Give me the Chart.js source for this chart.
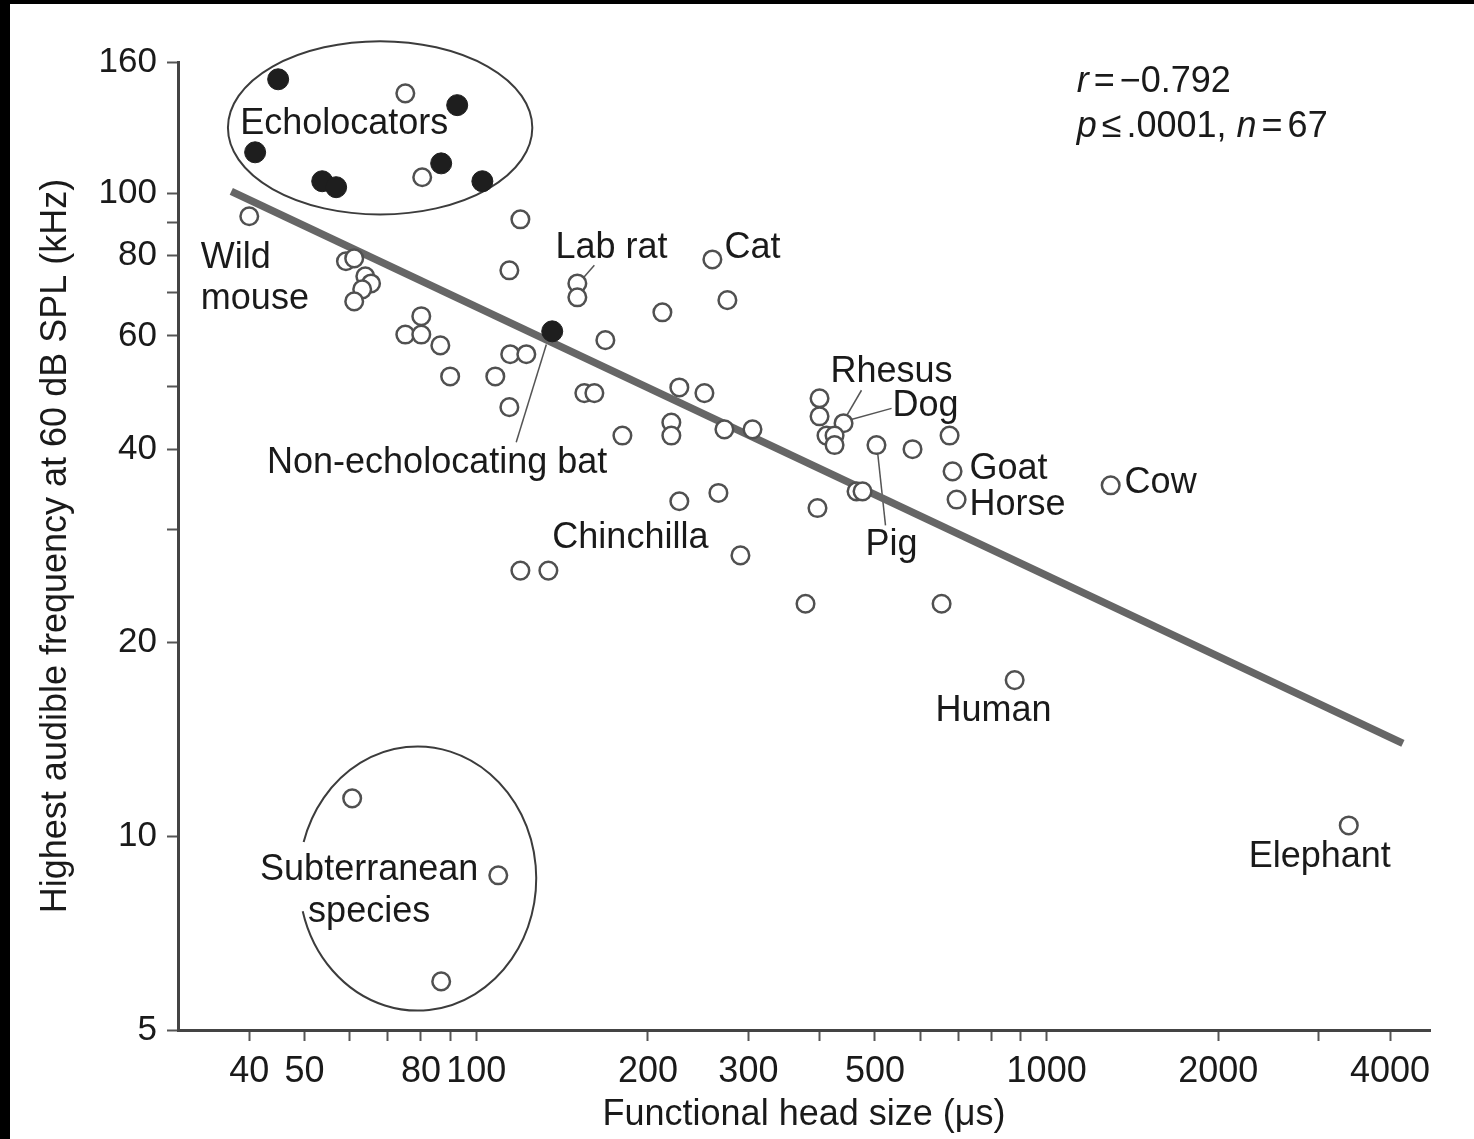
<!DOCTYPE html>
<html>
<head>
<meta charset="utf-8">
<title>Head size vs. high-frequency hearing</title>
<script src="https://cdn.jsdelivr.net/npm/chart.js@4.4.0/dist/chart.umd.min.js"></script>
<style>
  html, body { margin: 0; padding: 0; background: #fff; }
  #wrap { width: 1474px; height: 1139px; }
</style>
</head>
<body>
<div id="wrap"><canvas id="chart" width="1474" height="1139"></canvas></div>
<script>
// functional head size (µs) / highest audible frequency (kHz)
const speciesHeadSize = [
  40, 59.1, 61.1, 63.9, 65.4, 63.1, 61.1,
  75.1, 80.1, 80.1, 86.5, 90.0,
  108.0, 114.3, 114.7, 122.4, 119.5, 114.3,
  150.4, 150.4, 168.4, 154.7, 161.1, 180.4, 212.0,
  259.4, 275.6, 227.0, 251.2, 219.8, 219.8, 272.3, 305.0,
  227.0, 265.8, 290.5, 119.5, 133.8, 377.8, 396.5,
  399.8, 399.8, 440.5, 411.2, 424.8, 424.8,
  503.1, 581.9, 675.8, 464.2, 475.6, 684.0, 695.2, 654.4,
  878.9, 1295, 3386,
  75.1, 80.4
];
const speciesFrequency = [
  92.1, 78.4, 79.2, 74.3, 72.4, 70.9, 67.9,
  60.3, 60.3, 64.4, 58.0, 51.9,
  51.9, 46.5, 56.2, 56.2, 91.1, 75.9,
  72.4, 68.9, 59.1, 48.9, 48.9, 42.0, 65.3,
  78.9, 68.2, 49.9, 48.9, 44.0, 42.0, 42.95, 42.95,
  33.2, 34.2, 27.35, 25.9, 25.9, 23.0, 32.4,
  48.0, 45.0, 43.9, 42.0, 42.0, 40.6,
  40.6, 40.0, 42.0, 34.4, 34.4, 36.95, 33.4, 23.0,
  17.5, 35.15, 10.4,
  143.0, 105.9
];

// bats (filled markers), last one is the non-echolocating bat
const batHeadSize = [44.95, 40.96, 53.7, 56.8, 86.8, 92.6, 102.5, 135.9];
const batFrequency = [150.4, 115.8, 104.4, 102.2, 111.3, 137.1, 104.4, 61.0];

// subterranean species, left out of the regression
const subterraneanHeadSize = [60.6, 109.3, 86.8];
const subterraneanFrequency = [11.46, 8.7, 5.95];

// regression line end points
const fitHeadSize = [37.2, 4213];
const fitFrequency = [100.7, 13.95];

const xTickValues = [40, 50, 60, 70, 80, 90, 100, 200, 300, 400, 500, 600, 700, 800, 900, 1000, 2000, 3000, 4000];
const xTickLabels = ['40', '50', '', '', '80', '', '100', '200', '300', '', '500', '', '', '', '', '1000', '2000', '', '4000'];
const yTickValues = [5, 10, 20, 30, 40, 50, 60, 70, 80, 90, 100, 160];
const yTickLabels = ['5', '10', '20', '', '40', '', '60', '', '80', '', '100', '160'];

const FONT = "'Liberation Sans', Arial, Helvetica, sans-serif";
const INK = '#1a1a1a';

// text labels, anchored in data units
const notes = [
  { text: 'Echolocators', x: 58.7, y: 129.9, align: 'center' },
  { text: 'Wild', x: 32.9, y: 80.4, align: 'left' },
  { text: 'mouse', x: 32.9, y: 69.4, align: 'left' },
  { text: 'Lab rat', x: 172.6, y: 83.3, align: 'center' },
  { text: 'Cat', x: 272.3, y: 83.3, align: 'left' },
  { text: 'Non-echolocating bat', x: 85.4, y: 38.6, align: 'center' },
  { text: 'Rhesus', x: 534.7, y: 53.4, align: 'center' },
  { text: 'Dog', x: 536.8, y: 47.3, align: 'left' },
  { text: 'Goat', x: 732.6, y: 37.8, align: 'left' },
  { text: 'Horse', x: 732.6, y: 33.2, align: 'left' },
  { text: 'Pig', x: 534.7, y: 28.8, align: 'center' },
  { text: 'Cow', x: 1370, y: 35.9, align: 'left' },
  { text: 'Chinchilla', x: 186.3, y: 29.5, align: 'center' },
  { text: 'Human', x: 807.3, y: 15.9, align: 'center' },
  { text: 'Elephant', x: 3012, y: 9.41, align: 'center' },
  { text: 'Subterranean', x: 64.9, y: 8.98, align: 'center' },
  { text: 'species', x: 64.9, y: 7.73, align: 'center' }
];

// leader lines from label to point
const leaders = [
  [161.1, 77.3, 152.2, 72.96],   // lab rat
  [132.7, 58.2, 117.5, 41.0],    // non-echolocating bat
  [473.6, 49.4, 429.9, 42.65],   // rhesus
  [534.7, 46.3, 451.1, 44.4],    // dog
  [505.2, 39.7, 521.8, 30.45]    // pig
];

// group outlines: bounding box in data units, optional gap for text
const groups = [
  { x0: 36.7, x1: 125.4, y0: 92.7, y1: 172.4 },
  { x0: 48.9, x1: 127.4, y0: 5.36, y1: 13.8, gap: [Math.PI - 0.25, Math.PI + 0.28] }
];

const statLines = [
  { y: 151.0, runs: [{ t: 'r', italic: true, gap: 5 }, { t: '=', gap: 5 }, { t: '\u22120.792' }] },
  { y: 128.5, runs: [{ t: 'p', italic: true, gap: 5 }, { t: '\u2264', gap: 5 }, { t: '.0001, ' },
                     { t: 'n', italic: true, gap: 5 }, { t: '=', gap: 5 }, { t: '67' }] }
];
const statX = 1129;
const TEXT_DROP = 4; // baseline nudge so the glyph centre sits on the anchor

const toPoints = (xs, ys) => xs.map((x, i) => ({ x, y: ys[i] }));

const paper = {
  id: 'paper',
  beforeDraw(chart) {
    const { ctx, width, height } = chart;
    ctx.save();
    ctx.fillStyle = '#fff';
    ctx.fillRect(0, 0, width, height);
    ctx.fillStyle = '#000';
    ctx.fillRect(0, 0, width, 4);
    ctx.fillRect(0, 0, 10, height);
    ctx.restore();
  }
};

const decorations = {
  id: 'decorations',
  beforeDatasetsDraw(chart) {
    const { ctx } = chart;
    const sx = chart.scales.x, sy = chart.scales.y;
    ctx.save();
    ctx.strokeStyle = '#3c3c3c';
    ctx.lineWidth = 2;
    groups.forEach(g => {
      const l = sx.getPixelForValue(g.x0), r = sx.getPixelForValue(g.x1);
      const t = sy.getPixelForValue(g.y1), b = sy.getPixelForValue(g.y0);
      const start = g.gap ? g.gap[1] : 0;
      const end = g.gap ? g.gap[0] + 2 * Math.PI : 2 * Math.PI;
      ctx.beginPath();
      ctx.ellipse((l + r) / 2, (t + b) / 2, (r - l) / 2, (b - t) / 2, 0, start, end);
      ctx.stroke();
    });
    ctx.strokeStyle = '#555';
    ctx.lineWidth = 1.5;
    leaders.forEach(([x0, y0, x1, y1]) => {
      ctx.beginPath();
      ctx.moveTo(sx.getPixelForValue(x0), sy.getPixelForValue(y0));
      ctx.lineTo(sx.getPixelForValue(x1), sy.getPixelForValue(y1));
      ctx.stroke();
    });
    ctx.restore();
  },
  afterDatasetsDraw(chart) {
    const { ctx } = chart;
    const sx = chart.scales.x, sy = chart.scales.y;
    ctx.save();
    ctx.fillStyle = INK;
    ctx.textBaseline = 'middle';
    ctx.font = '36px ' + FONT;
    notes.forEach(n => {
      ctx.textAlign = n.align;
      ctx.fillText(n.text, sx.getPixelForValue(n.x), sy.getPixelForValue(n.y) + TEXT_DROP);
    });
    ctx.textAlign = 'left';
    statLines.forEach(line => {
      let cx = sx.getPixelForValue(statX);
      const cy = sy.getPixelForValue(line.y) + TEXT_DROP;
      line.runs.forEach(run => {
        ctx.font = (run.italic ? 'italic ' : '') + '36px ' + FONT;
        ctx.fillText(run.t, cx, cy);
        cx += ctx.measureText(run.t).width + (run.gap || 0);
      });
    });
    ctx.restore();
  }
};

const openMarker = {
  pointRadius: 8.8,
  pointBorderWidth: 2.5,
  pointBorderColor: '#505050',
  pointBackgroundColor: '#fff',
  order: 2
};

new Chart(document.getElementById('chart'), {
  type: 'scatter',
  data: {
    datasets: [
      {
        type: 'line',
        data: toPoints(fitHeadSize, fitFrequency),
        borderColor: '#666',
        borderWidth: 7.5,
        pointRadius: 0,
        fill: false,
        order: 3
      },
      Object.assign({ data: toPoints(speciesHeadSize, speciesFrequency) }, openMarker),
      Object.assign({ data: toPoints(subterraneanHeadSize, subterraneanFrequency) }, openMarker),
      {
        data: toPoints(batHeadSize, batFrequency),
        pointRadius: 10.5,
        pointBorderWidth: 1,
        pointBorderColor: '#1e1e1e',
        pointBackgroundColor: '#1e1e1e',
        order: 1
      }
    ]
  },
  options: {
    responsive: false,
    animation: false,
    devicePixelRatio: 1,
    layout: { padding: { top: 62, right: 44, left: 0, bottom: 0 } },
    plugins: { legend: { display: false }, tooltip: { enabled: false } },
    scales: {
      x: {
        type: 'logarithmic',
        min: 30,
        max: 4700,
        afterBuildTicks: s => { s.ticks = xTickValues.map(v => ({ value: v })); },
        afterFit: s => {
          s.height = 109;
          s.paddingLeft = s.paddingRight = s.paddingTop = s.paddingBottom = 0;
        },
        grid: { drawOnChartArea: false, drawTicks: true, tickLength: 11, tickColor: '#555', tickWidth: 2 },
        border: { display: true, color: '#444', width: 3 },
        ticks: {
          autoSkip: false,
          maxRotation: 0,
          minRotation: 0,
          padding: 9,
          color: INK,
          font: { family: FONT, size: 36 },
          callback: (v, i) => xTickLabels[i]
        },
        title: {
          display: true,
          text: 'Functional head size (\u03bcs)',
          color: INK,
          font: { family: FONT, size: 36, lineHeight: 1.2 },
          padding: { top: 0, bottom: 2 }
        }
      },
      y: {
        type: 'logarithmic',
        min: 5,
        max: 160,
        afterBuildTicks: s => { s.ticks = yTickValues.map(v => ({ value: v })); },
        afterFit: s => {
          s.width = 178;
          s.paddingLeft = s.paddingRight = s.paddingTop = s.paddingBottom = 0;
        },
        grid: { drawOnChartArea: false, drawTicks: true, tickLength: 11, tickColor: '#555', tickWidth: 2 },
        border: { display: true, color: '#444', width: 3 },
        ticks: {
          autoSkip: false,
          padding: 10,
          color: INK,
          font: { family: FONT, size: 35 },
          callback: (v, i) => yTickLabels[i]
        },
        title: {
          display: true,
          text: 'Highest audible frequency at 60 dB SPL (kHz)',
          color: INK,
          font: { family: FONT, size: 36, lineHeight: 1.2 },
          padding: { top: 34, bottom: 0 }
        }
      }
    }
  },
  plugins: [paper, decorations]
});
</script>
</body>
</html>
